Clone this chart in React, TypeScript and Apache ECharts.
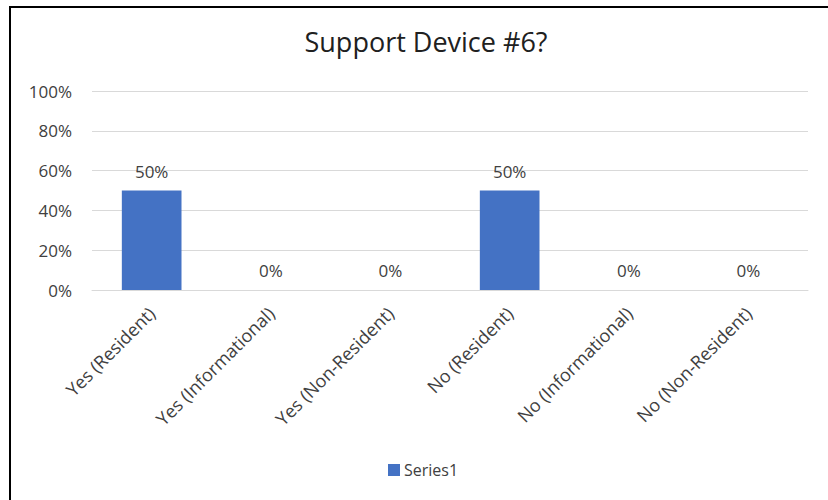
import React, { useEffect, useRef } from "react";
import * as echarts from "echarts";

const categories = [
  "Yes (Resident)",
  "Yes (Informational)",
  "Yes (Non-Resident)",
  "No (Resident)",
  "No (Informational)",
  "No (Non-Resident)",
];
const series1 = [0.5, 0, 0, 0.5, 0, 0];
const yTicks = [0, 0.2, 0.4, 0.6, 0.8, 1];

const FONT = "'Open Sans', 'Noto Sans', sans-serif";
const TEXT = "#404040";

export default function App() {
  const ref = useRef<HTMLDivElement>(null);
  useEffect(() => {
    if (!ref.current) return;
    const chart = echarts.init(ref.current, undefined, { renderer: "svg" });
    chart.setOption({
      animation: false,
      backgroundColor: "#ffffff",
      textStyle: { fontFamily: FONT },
      title: {
        text: "Support Device #6?",
        left: 421,
        textAlign: "center",
        top: 23,
        textStyle: { fontFamily: FONT, fontSize: 27, fontWeight: "normal", color: "#202020" },
      },
      graphic: [
        { type: "line", shape: { x1: 9, y1: 7, x2: 828, y2: 7 }, style: { stroke: "#000", lineWidth: 2 } },
        { type: "line", shape: { x1: 10, y1: 6, x2: 10, y2: 500 }, style: { stroke: "#000", lineWidth: 2 } },
      ],
      legend: {
        left: 383,
        top: 457,
        itemWidth: 12,
        itemHeight: 12,
        itemGap: 4,
        icon: "rect",
        textStyle: { fontFamily: FONT, fontSize: 16, color: TEXT, padding: [0, 0, 0, -1] },
        data: ["Series1"],
      },
      grid: { left: 92, right: 20, top: 91, bottom: 210, containLabel: false },
      xAxis: {
        type: "category",
        data: categories,
        axisLine: { lineStyle: { color: "#D9D9D9", width: 1 } },
        axisTick: { show: false },
        axisLabel: {
          rotate: 45,
          interval: 0,
          margin: 20,
          fontFamily: FONT,
          fontSize: 18,
          color: TEXT,
        },
      },
      yAxis: {
        type: "value",
        min: 0,
        max: 1,
        interval: 0.2,
        axisLine: { show: false },
        axisTick: { show: false },
        splitLine: { lineStyle: { color: "#D9D9D9", width: 1 } },
        axisLabel: {
          margin: 20,
          fontFamily: FONT,
          fontSize: 17,
          color: TEXT,
          formatter: (v: number) => (yTicks.includes(v) ? Math.round(v * 100) + "%" : ""),
        },
      },
      series: [
        {
          name: "Series1",
          type: "bar",
          data: series1,
          barWidth: "50%",
          itemStyle: { color: "#4472C4" },
          label: {
            show: true,
            position: "top",
            distance: 11,
            fontFamily: FONT,
            fontSize: 17,
            color: TEXT,
            formatter: (p: any) => Math.round(p.value * 100) + "%",
          },
        },
      ],
    });
    return () => chart.dispose();
  }, []);
  return (
    <div
      ref={ref}
      style={{ position: "absolute", left: 0, top: 0, width: 828, height: 500 }}
    />
  );
}
